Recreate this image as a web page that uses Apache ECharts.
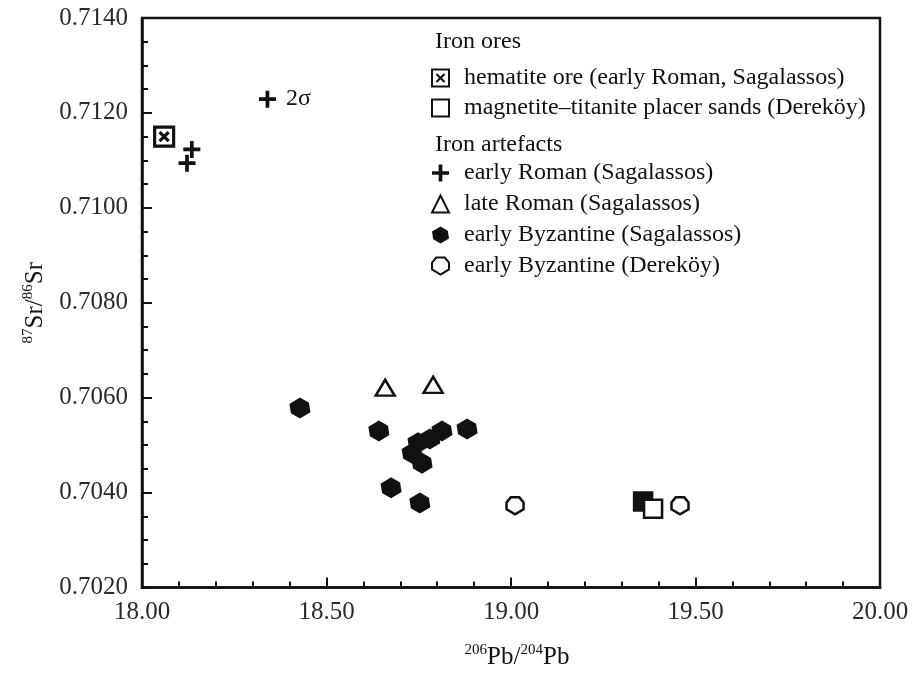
<!DOCTYPE html>
<html>
<head>
<meta charset="utf-8">
<script src="https://cdn.jsdelivr.net/npm/echarts@6/dist/echarts.min.js"></script>
<style>html,body{margin:0;padding:0;background:#fff}#c{width:912px;height:675px}</style>
</head>
<body>
<div id="c"></div>
<script>
// ---- data (206Pb/204Pb, 87Sr/86Sr) ----
const hematiteOre = [[18.06, 0.71150]];
const magnetiteSands = [[19.358, 0.70381], [19.385, 0.70366]];
const earlyRoman = [[18.135, 0.71123], [18.122, 0.71094]];
const lateRoman = [[18.659, 0.70621], [18.789, 0.70627]];
const earlyByzSagalassos = [[18.428, 0.70578], [18.642, 0.70530], [18.881, 0.70534], [18.813, 0.70530],
  [18.780, 0.70513], [18.748, 0.70505], [18.732, 0.70483], [18.759, 0.70462], [18.675, 0.70410], [18.753, 0.70378]];
const earlyByzDerekoy = [[19.011, 0.70372], [19.458, 0.70372]];
const sigmaMarker = [[18.34, 0.71229]];

const seriesNames = ['hematite ore (early Roman, Sagalassos)', 'magnetite\u2013titanite placer sands (Derek\u00f6y)',
  'early Roman (Sagalassos)', 'late Roman (Sagalassos)', 'early Byzantine (Sagalassos)', 'early Byzantine (Derek\u00f6y)'];
const groupTitles = ['Iron ores', 'Iron artefacts'];
const xTicks = {min: 18, max: 20, interval: 0.5};
const yTicks = {min: 0.702, max: 0.714, interval: 0.002};

const FONT = 'Liberation Serif';
const INK = '#111';
const PLUS = 'path://M3.9,0 L6.1,0 L6.1,3.9 L10,3.9 L10,6.1 L6.1,6.1 L6.1,10 L3.9,10 L3.9,6.1 L0,6.1 L0,3.9 L3.9,3.9 Z';
const XSQ = 'path://M0,0 L10,0 L10,10 L0,10 Z M2.6,2.6 L7.4,7.4 M7.4,2.6 L2.6,7.4';
const HEXF = 'path://M5,0 L9.3,2.5 L10,7 L5,10 L0.7,7.5 L0,3 Z';
const HEXO = 'path://M2.5,0 L7.5,0 L10,3 L10,7 L5,10 L0,7 L0,3 Z';

const chart = echarts.init(document.getElementById('c'), null, {renderer: 'canvas'});
const open = {color: '#fff', borderColor: INK, borderWidth: 2.5, opacity: 1};
const filled = {color: INK, opacity: 1};
const nameRich = {m: {fontFamily: FONT, fontSize: 25, color: INK, lineHeight: 30}, s: {fontFamily: FONT, fontSize: 15, color: INK, verticalAlign: 'top', lineHeight: 30}};

chart.setOption({
  animation: false,
  backgroundColor: '#fff',
  textStyle: {fontFamily: FONT},
  grid: {left: 142, right: 32, top: 18, bottom: 78, show: true, borderColor: INK, borderWidth: 2.5, backgroundColor: 'transparent'},
  xAxis: {
    type: 'value', min: xTicks.min, max: xTicks.max, interval: xTicks.interval,
    name: '{s|206}{m|Pb/}{s|204}{m|Pb}', nameLocation: 'middle', nameGap: 55,
    nameTextStyle: {rich: nameRich, padding: [0, 0, 0, 12]},
    axisLine: {onZero: false, lineStyle: {color: INK, width: 2.5}},
    axisTick: {inside: true, length: 10, lineStyle: {color: INK, width: 2}},
    minorTick: {show: true, splitNumber: 5, length: 6, lineStyle: {color: INK, width: 2}},
    splitLine: {show: false},
    axisLabel: {fontFamily: FONT, fontSize: 25, color: '#2a2a2a', margin: 12, formatter: v => v.toFixed(2)}
  },
  yAxis: {
    type: 'value', min: yTicks.min, max: yTicks.max, interval: yTicks.interval,
    name: '{s|87}{m|Sr/}{s|86}{m|Sr}', nameLocation: 'middle', nameGap: 78, nameRotate: 90,
    nameTextStyle: {rich: nameRich},
    axisLine: {onZero: false, lineStyle: {color: INK, width: 2.5}},
    axisTick: {inside: true, length: 10, lineStyle: {color: INK, width: 2}},
    minorTick: {show: true, splitNumber: 4, length: 6, lineStyle: {color: INK, width: 2}},
    splitLine: {show: false},
    axisLabel: {fontFamily: FONT, fontSize: 25, color: '#2a2a2a', margin: 14, formatter: v => v.toFixed(4)}
  },
  graphic: [
    {type: 'text', left: 435, top: 30, style: {text: groupTitles[0], font: '24px "Liberation Serif"', fill: INK}},
    {type: 'text', left: 435, top: 133, style: {text: groupTitles[1], font: '24px "Liberation Serif"', fill: INK}}
  ],
  legend: [
    {data: seriesNames.slice(0, 2), orient: 'vertical', left: 426, top: 61, itemWidth: 17, itemHeight: 17, itemGap: 6,
      selectedMode: false, textStyle: {fontFamily: FONT, fontSize: 24, color: INK, padding: [0, 0, 0, 10]}},
    {data: seriesNames.slice(2), orient: 'vertical', left: 426, top: 156, itemWidth: 17, itemHeight: 17, itemGap: 7,
      selectedMode: false, textStyle: {fontFamily: FONT, fontSize: 24, color: INK, padding: [0, 0, 0, 10]}}
  ],
  series: [
    {name: seriesNames[0], type: 'scatter', data: hematiteOre, symbol: XSQ, symbolSize: 19, itemStyle: {color: '#fff', borderColor: INK, borderWidth: 3.2, opacity: 1}, z: 3},
    {name: seriesNames[1], type: 'scatter', symbol: 'rect', symbolSize: 18, itemStyle: open, z: 3,
      data: magnetiteSands.map((p, i) => i === 0 ? {value: p, itemStyle: {color: INK}} : p)},
    {name: seriesNames[2], type: 'scatter', data: earlyRoman, symbol: PLUS, symbolSize: 17, itemStyle: filled, z: 3},
    {name: seriesNames[3], type: 'scatter', data: lateRoman, symbol: 'triangle', symbolSize: [19, 16], itemStyle: open, z: 3},
    {name: seriesNames[4], type: 'scatter', data: earlyByzSagalassos, symbol: HEXF, symbolSize: 21, itemStyle: filled, z: 3},
    {name: seriesNames[5], type: 'scatter', data: earlyByzDerekoy, symbol: HEXO, symbolSize: 17, itemStyle: open, z: 3},
    {name: '2\u03c3', type: 'scatter', data: sigmaMarker, symbol: PLUS, symbolSize: 17, itemStyle: filled, z: 3,
      label: {show: true, position: 'right', distance: 10, formatter: '2\u03c3', fontFamily: FONT, fontSize: 24, color: INK}}
  ]
});
</script>
</body>
</html>
